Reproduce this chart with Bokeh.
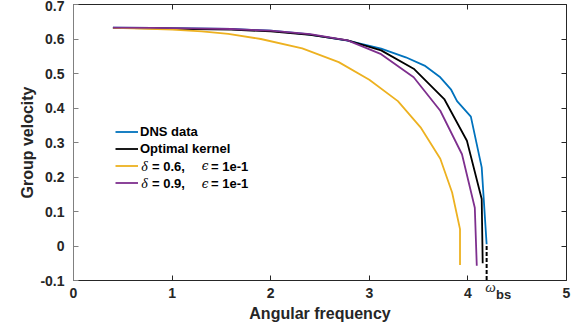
from bokeh.plotting import figure
from bokeh.models import (LinearAxis, FixedTicker, CustomJSTickFormatter, Legend,
                          LegendItem, Label, Range1d)
from bokeh.embed import file_html
from bokeh.resources import INLINE

# ---------------- data ----------------
dns_x = [0.40, 0.80, 1.20, 1.60, 2.00, 2.40, 2.78, 3.12, 3.37, 3.56, 3.72, 3.83, 3.89, 4.03, 4.14, 4.19]
dns_y = [0.633, 0.632, 0.631, 0.629, 0.624, 0.613, 0.595, 0.572, 0.547, 0.523, 0.489, 0.453, 0.420, 0.375, 0.228, 0.005]

opt_x = [0.40, 0.80, 1.20, 1.60, 2.00, 2.40, 2.78, 3.12, 3.45, 3.76, 3.99, 4.14, 4.15]
opt_y = [0.632, 0.631, 0.629, 0.627, 0.622, 0.612, 0.596, 0.567, 0.514, 0.426, 0.305, 0.136, -0.050]

d06_x = [0.40, 0.70, 1.00, 1.30, 1.57, 1.90, 2.32, 2.69, 3.00, 3.29, 3.52, 3.72, 3.84, 3.92, 3.92]
d06_y = [0.632, 0.630, 0.627, 0.622, 0.615, 0.600, 0.573, 0.533, 0.482, 0.420, 0.344, 0.253, 0.155, 0.049, -0.055]

d09_x = [0.40, 0.80, 1.20, 1.60, 2.00, 2.40, 2.78, 3.12, 3.45, 3.72, 3.94, 4.07, 4.09]
d09_y = [0.633, 0.632, 0.631, 0.629, 0.624, 0.614, 0.596, 0.556, 0.489, 0.392, 0.266, 0.111, -0.057]

omega_bs_x = [4.19, 4.19]
omega_bs_y = [0.0, -0.1]

x_ticks = [0, 1, 2, 3, 4, 5]
y_ticks = [-0.1, 0, 0.1, 0.2, 0.3, 0.4, 0.5, 0.6, 0.7]

legend_labels = ["DNS data", "Optimal kernel"]

FONT = "Liberation Sans"
DARK = "#262626"

p = figure(width=580, height=329, x_range=Range1d(0, 5), y_range=Range1d(-0.1, 0.7),
           output_backend="svg", toolbar_location=None,
           x_axis_type=None, y_axis_type=None,
           min_border_left=73, min_border_right=14, min_border_top=4, min_border_bottom=49)
p.grid.visible = False
p.outline_line_color = None
p.background_fill_color = "white"
p.border_fill_color = "white"


def style_axis(ax, color, labels=True):
    ax.axis_line_color = color
    ax.major_tick_line_color = color
    ax.axis_line_width = 1
    ax.major_tick_in = 5
    ax.major_tick_out = 0
    ax.minor_tick_line_color = None
    ax.major_label_text_font = FONT
    ax.major_label_text_font_style = "bold"
    ax.major_label_text_color = DARK
    if labels:
        ax.major_label_text_font_size = "14px"
    else:
        ax.major_label_text_font_size = "0px"
        ax.major_label_standoff = 0
        ax.formatter = CustomJSTickFormatter(code="return ''")


fmt_y = CustomJSTickFormatter(code="return (Math.abs(tick) < 1e-9) ? '0' : tick.toFixed(1);")
fmt_x = CustomJSTickFormatter(code="return tick.toFixed(0);")

bottom = LinearAxis(ticker=FixedTicker(ticks=x_ticks), formatter=fmt_x,
                    axis_label="Angular frequency")
style_axis(bottom, DARK)
bottom.major_label_standoff = 7
bottom.axis_label_standoff = 4
bottom.axis_label_text_font = FONT
bottom.axis_label_text_font_style = "bold"
bottom.axis_label_text_font_size = "16px"
bottom.axis_label_text_color = DARK
p.add_layout(bottom, "below")

left = LinearAxis(ticker=FixedTicker(ticks=y_ticks), formatter=fmt_y,
                  axis_label="Group velocity")
style_axis(left, "#808080")
left.major_label_standoff = 9
left.axis_label_standoff = 1
left.axis_label_text_font = FONT
left.axis_label_text_font_style = "bold"
left.axis_label_text_font_size = "16px"
left.axis_label_text_color = DARK
p.add_layout(left, "left")

top = LinearAxis(ticker=FixedTicker(ticks=x_ticks))
style_axis(top, DARK, labels=False)
p.add_layout(top, "above")

right = LinearAxis(ticker=FixedTicker(ticks=y_ticks))
style_axis(right, DARK, labels=False)
p.add_layout(right, "right")

LW = 1.8
r_dns = p.line(dns_x, dns_y, line_color="#0072BD", line_width=LW)
r_opt = p.line(opt_x, opt_y, line_color="#000000", line_width=LW)
r_06 = p.line(d06_x, d06_y, line_color="#EDB120", line_width=LW)
r_09 = p.line(d09_x, d09_y, line_color="#7E2F8E", line_width=LW)
p.line(omega_bs_x, omega_bs_y, line_color="black", line_width=2, line_dash="4 2")

legend = Legend(items=[LegendItem(label=legend_labels[0], renderers=[r_dns]),
                       LegendItem(label=legend_labels[1], renderers=[r_opt]),
                       LegendItem(label=" ", renderers=[r_06]),
                       LegendItem(label=" ", renderers=[r_09])],
                location=(42, 89), orientation="vertical",
                label_text_font=FONT, label_text_font_style="bold",
                label_text_font_size="13px", label_text_color="black",
                glyph_width=23, glyph_height=17, label_height=17, spacing=0,
                label_standoff=2, padding=0, margin=0,
                border_line_color=None, background_fill_alpha=0)
p.add_layout(legend, "center")

# mixed-font legend labels for the two kernel rows
rows = [("= 0.6,", 0.2305), ("= 0.9,", 0.181)]
for txt, yy in rows:
    p.add_layout(Label(x=0.688, y=yy, text="δ", text_font="Liberation Serif",
                       text_font_style="italic", text_font_size="14px",
                       text_baseline="middle", text_color="black"))
    p.add_layout(Label(x=0.796, y=yy, text=txt, text_font=FONT,
                       text_font_style="bold", text_font_size="13px",
                       text_baseline="middle", text_color="black"))
    p.add_layout(Label(x=1.30, y=yy, text="ϵ", text_font="DejaVu Serif",
                       text_font_style="italic", text_font_size="12px",
                       text_baseline="middle", text_color="black"))
    p.add_layout(Label(x=1.395, y=yy, text="= 1e-1", text_font=FONT,
                       text_font_style="bold", text_font_size="13px",
                       text_baseline="middle", text_color="black"))

# omega_bs label below the frame; placed in side panels so it is not clipped
p.add_layout(Label(x=4.23, y=-0.119, text="ω", text_font="Liberation Serif",
                   text_font_style="italic", text_font_size="15px",
                   text_align="center", text_baseline="middle", text_color=DARK), "right")
p.add_layout(Label(x=4.285, y=-0.141, text="bs", text_font=FONT,
                   text_font_style="bold", text_font_size="13px",
                   text_align="left", text_baseline="middle", text_color=DARK), "left")

open("out.html", "w").write(file_html(p, INLINE))
